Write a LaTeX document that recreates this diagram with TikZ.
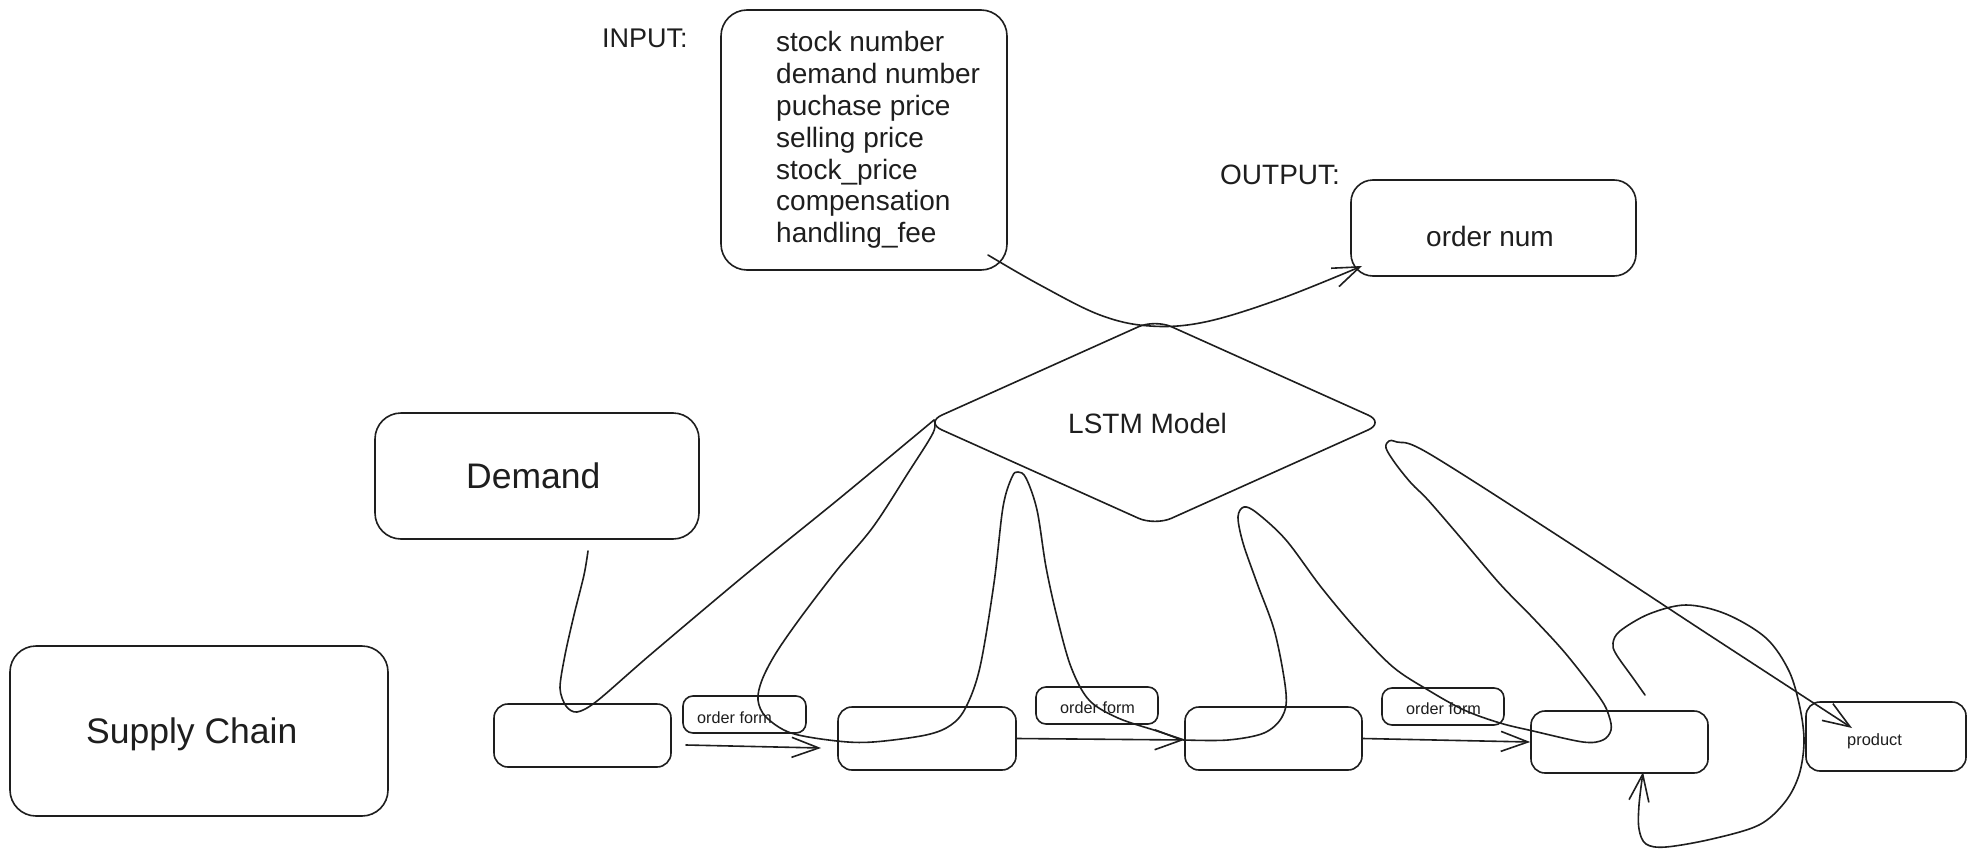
\documentclass[tikz,border=0pt]{standalone}
\usepackage{fontspec}
\setmainfont{Liberation Sans}
\usetikzlibrary{arrows.meta,shapes.geometric}
\definecolor{ink}{HTML}{1E1E1E}
\begin{document}
\begin{tikzpicture}[x=1pt,y=-1pt,
  ln/.style={draw=ink, line width=1.6pt, line cap=round, line join=round},
  tip/.style={-{Straight Barb[length=27pt,width=20pt]}},
  box/.style={draw=ink, line width=1.6pt, rectangle, rounded corners=#1, inner sep=0pt},
  box/.default=12pt,
  lbl/.style={anchor=base west, inner sep=0pt, text=ink, font=\fontsize{#1}{#1}\selectfont},
]
\useasboundingbox (0,0) rectangle (1978,856);
\fill[white] (0,0) rectangle (1978,856);

% big boxes
\node[box=26pt, minimum width=378pt, minimum height=170pt] (supply) at (199,731) {};
\node[box=26pt, minimum width=324pt, minimum height=126pt] (demand) at (537,476) {};
\node[box=26pt, minimum width=286pt, minimum height=260pt] (input) at (864,140) {};
\node[box=22pt, minimum width=285pt, minimum height=96pt] (output) at (1493.5,228) {};
\node[diamond, draw=ink, line width=1.6pt, rounded corners=18pt, inner sep=0pt,
      minimum width=460pt, minimum height=207pt] (lstm) at (1155,422.5) {};

% bottom row
\node[box=14pt, minimum width=177pt, minimum height=63pt] (b1) at (582.5,735.5) {};
\node[box=10pt, minimum width=123pt, minimum height=37pt] (of1) at (744.5,714.5) {};
\node[box=14pt, minimum width=178pt, minimum height=63pt] (b2) at (927,738.5) {};
\node[box=10pt, minimum width=122pt, minimum height=37pt] (of2) at (1097,705.5) {};
\node[box=14pt, minimum width=177pt, minimum height=63pt] (b3) at (1273.5,738.5) {};
\node[box=10pt, minimum width=122pt, minimum height=37pt] (of3) at (1443,706.5) {};
\node[box=14pt, minimum width=177pt, minimum height=62pt] (b4) at (1619.5,742) {};
\node[box=14pt, minimum width=160pt, minimum height=69pt] (product) at (1886,736.5) {};

% texts
\node[lbl=35.5] (tsupply) at (86,743) {Supply Chain};
\node[lbl=35.5] (tdemand) at (466,488) {Demand};
\node[lbl=27] (tinput) at (602,47.5) {INPUT:};
\node[lbl=28] (toutput) at (1220,184) {OUTPUT:};
\foreach \t [count=\i from 0] in {stock number,demand number,puchase price,selling price,stock\_price,compensation,handling\_fee}
  \node[lbl=28] (in\i) at (776,52+31.75*\i) {\t};
\node[lbl=28] (torder) at (1426,246) {order num};
\node[lbl=28] (tlstm) at (1068,433) {LSTM Model};
\node[lbl=16.2] (tof1) at (697,723) {order form};
\node[lbl=16.2] (tof2) at (1060,713) {order form};
\node[lbl=16.2] (tof3) at (1406,714) {order form};
\node[lbl=16.4] (tprod) at (1847,745.6) {product};

% named free ends
\coordinate (c1s) at (988,255);
\coordinate (c1e) at (1362,266);
\coordinate (as) at (588,551);
\coordinate (lft) at (934,420);
\coordinate (b3in) at (1184,740);
\coordinate (prodin) at (1852,728);
\coordinate (loops) at (1645,695);
\coordinate (b4bot) at (1643,772);
\coordinate (a1s) at (686,745);
\coordinate (a1e) at (821,748);

% straight arrows in the row
\draw[ln,tip] (a1s) -- (a1e);
\draw[ln,tip] (b2.east) -- (b3in);
\draw[ln,tip] (b3.east) -- (b4.west);

% input -> output through the model
\draw[ln,tip] plot[smooth, tension=0.6] coordinates {(c1s) (1040,285) (1100,315) (1150,326) (1205,322) (1280,299) (c1e)};

% demand -> first stage -> model
\draw[ln] plot[smooth, tension=0.5] coordinates {(as) (584,575) (574,615) (565,655) (560,688) (566,706) (577,712) (597,701) (650,655) (745,575) (840,498) (lft)};

% model -> second stage -> third stage
\draw[ln] plot[smooth, tension=0.55] coordinates {(lft) (933,433) (908,473) (873,527) (837,570) (801,617) (776,653) (762,680) (758,700) (766,717) (791,733) (837,741) (873,742) (926,735) (951,725) (966,707) (980,667) (994,583) (1003,507) (1012,477) (1018,472) (1026,478) (1037,510) (1046,567) (1057,617) (1071,667) (1089,700) (1118,718) (1157,731) (b3in)};

% third stage -> fourth stage -> model -> product
\draw[ln,tip] plot[smooth, tension=0.55] coordinates {(b3in) (1228,740) (1264,733) (1282,717) (1286,693) (1275,633) (1257,583) (1243,543) (1238,517) (1244,507) (1257,513) (1286,540) (1321,587) (1357,630) (1393,667) (1428,690) (1464,710) (1500,723) (1533,731) (1583,742) (1603,740) (1611,730) (1609,716) (1600,698) (1566,654) (1533,618) (1500,584) (1460,537) (1428,500) (1411,483) (1395,463) (1386,448) (1389,441) (1397,442) (1428,453) (1560,537) (1700,629) (prodin)};

% loop back into the fourth stage
\draw[ln,tip] plot[smooth, tension=0.55] coordinates {(loops) (1633,678) (1616,654) (1613,643) (1620,631) (1649,614) (1686,605) (1726,614) (1766,638) (1789,671) (1800,708) (1804,742) (1799,775) (1785,802) (1759,825) (1712,839) (1666,847) (1646,844) (1639,829) (1639,805) (b4bot)};
\end{tikzpicture}
\end{document}
